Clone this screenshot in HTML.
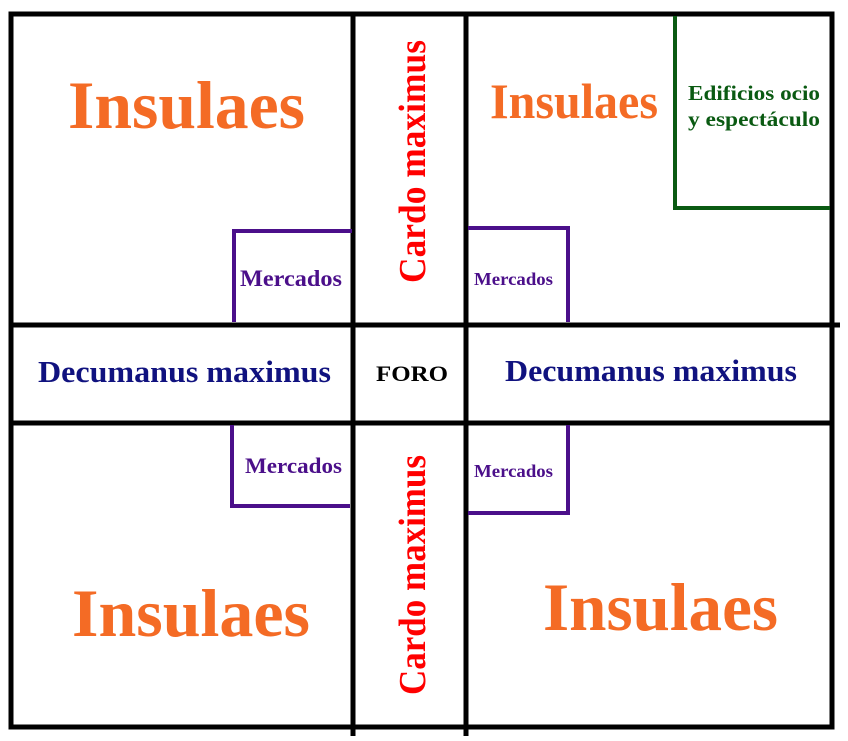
<!DOCTYPE html>
<html><head><style>
body{margin:0;background:#fff;}
svg text{font-family:"Liberation Serif",serif;font-weight:bold;}
</style></head><body>
<svg width="848" height="736" viewBox="0 0 848 736" xmlns="http://www.w3.org/2000/svg">
<g stroke="#000" stroke-width="5" fill="none">
<rect x="11" y="14" width="821" height="713"/>
<line x1="353" y1="14" x2="353" y2="736"/>
<line x1="466" y1="14" x2="466" y2="736"/>
<line x1="11" y1="325" x2="840" y2="325"/>
<line x1="11" y1="423" x2="832" y2="423"/>
</g>
<g stroke="#4b0f8a" stroke-width="4" fill="none">
<polyline points="234,322 234,231 352,231"/>
<polyline points="468,228 568,228 568,322"/>
<polyline points="232,425 232,506 350,506"/>
<polyline points="568,425 568,513 468,513"/>
</g>
<polyline points="675,16 675,208 830,208" stroke="#0a5a12" stroke-width="4" fill="none"/>
<g fill="#f46b25" lengthAdjust="spacingAndGlyphs">
<text x="68" y="128" font-size="68" textLength="237" lengthAdjust="spacingAndGlyphs">Insulaes</text>
<text x="490" y="118" font-size="50" textLength="168" lengthAdjust="spacingAndGlyphs">Insulaes</text>
<text x="72" y="636" font-size="68" textLength="238" lengthAdjust="spacingAndGlyphs">Insulaes</text>
<text x="543" y="630" font-size="68" textLength="235" lengthAdjust="spacingAndGlyphs">Insulaes</text>
</g>
<g fill="#f00" font-size="38">
<text transform="translate(425,283) rotate(-90)" textLength="243" lengthAdjust="spacingAndGlyphs">Cardo maximus</text>
<text transform="translate(425,695) rotate(-90)" textLength="240" lengthAdjust="spacingAndGlyphs">Cardo maximus</text>
</g>
<g fill="#10127f" font-size="31">
<text x="38" y="382" textLength="293" lengthAdjust="spacingAndGlyphs">Decumanus maximus</text>
<text x="505" y="381" textLength="292" lengthAdjust="spacingAndGlyphs">Decumanus maximus</text>
</g>
<text x="376" y="381" font-size="22" textLength="72" lengthAdjust="spacingAndGlyphs" fill="#000">FORO</text>
<g fill="#4b0f8a">
<text x="240" y="286" font-size="23" textLength="102" lengthAdjust="spacingAndGlyphs">Mercados</text>
<text x="474" y="285" font-size="18" textLength="79" lengthAdjust="spacingAndGlyphs">Mercados</text>
<text x="245" y="473" font-size="22" textLength="97" lengthAdjust="spacingAndGlyphs">Mercados</text>
<text x="474" y="477" font-size="18" textLength="79" lengthAdjust="spacingAndGlyphs">Mercados</text>
</g>
<g fill="#0a5a12" font-size="21">
<text x="688" y="100" textLength="132" lengthAdjust="spacingAndGlyphs">Edificios ocio</text>
<text x="688" y="126" textLength="132" lengthAdjust="spacingAndGlyphs">y espectáculo</text>
</g>
</svg>
</body></html>
